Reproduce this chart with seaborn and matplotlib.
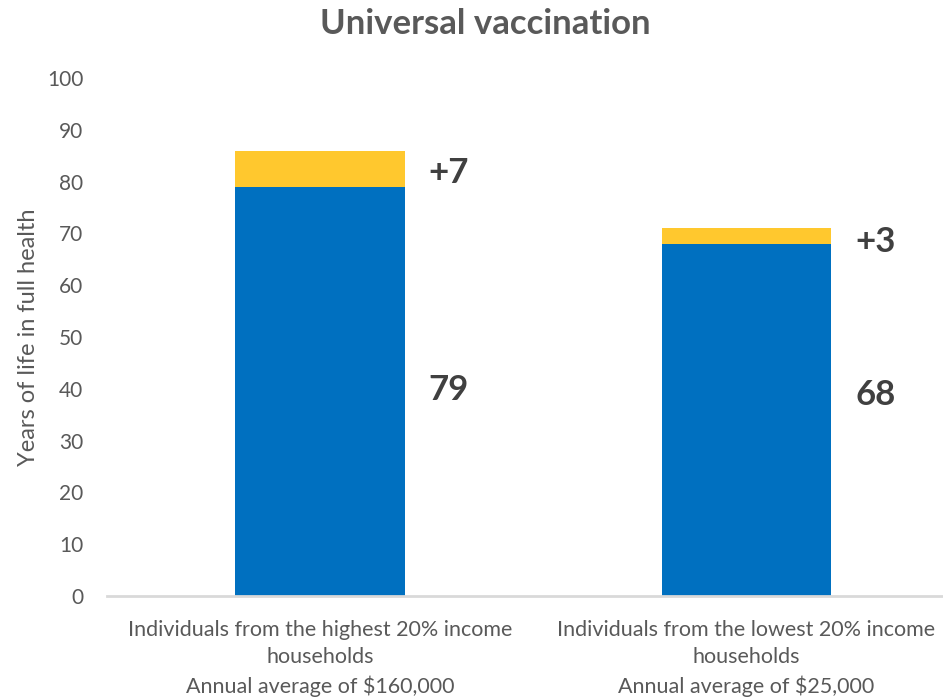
import matplotlib
matplotlib.use("Agg")
import matplotlib.pyplot as plt
import seaborn as sns
import pandas as pd

# ---- data ----
categories = [
    "Individuals from the highest 20% income\nhouseholds\nAnnual average of $160,000",
    "Individuals from the lowest 20% income\nhouseholds\nAnnual average of $25,000",
]
base_years = [79, 68]
gain_years = [7, 3]
base_labels = ["79", "68"]
gain_labels = ["+7", "+3"]
title = "Universal vaccination"
ylabel = "Years of life in full health"
yticks = list(range(0, 101, 10))

totals = [b + g for b, g in zip(base_years, gain_years)]
df = pd.DataFrame({"category": categories, "base": base_years, "total": totals})

sns.set_theme(style="white")
plt.rcParams["font.family"] = ["Lato", "DejaVu Sans"]

W, H = 943, 698
fig = plt.figure(figsize=(W / 100, H / 100), dpi=100)
left, right, top, bottom = 107, 959.5, 78, 596
ax = fig.add_axes([left / W, (H - bottom) / H, (right - left) / W, (bottom - top) / H])

blue = "#0070C0"
yellow = "#FFC82E"
bw = 170 / 427

sns.barplot(data=df, x="category", y="total", color=yellow, width=bw,
            saturation=1, ax=ax, linewidth=0)
sns.barplot(data=df, x="category", y="base", color=blue, width=bw,
            saturation=1, ax=ax, linewidth=0)

ax.set_xlim(-0.5, 1.5)
ax.set_ylim(0, 100)
ax.set_yticks(yticks)
ax.set_yticklabels([str(t) for t in yticks], fontsize=15, color="#595959")
ax.tick_params(axis="y", length=0, pad=17)
ax.tick_params(axis="x", length=0, pad=17)
ax.set_xticks(range(len(categories)))
ax.set_xticklabels(categories, fontsize=15.5, color="#595959", linespacing=1.47)
ax.set_xlabel("")
ax.set_ylabel(ylabel, fontsize=17, color="#595959", labelpad=6)

for s in ["top", "right", "left"]:
    ax.spines[s].set_visible(False)
ax.spines["bottom"].set_color("#D9D9D9")
ax.spines["bottom"].set_linewidth(2)

# value labels
label_dx = 0.255
base_label_y = [39.8, 38.8]
gain_label_y = [81.7, 68.3]
for i in range(len(categories)):
    ax.text(i + label_dx, base_label_y[i], base_labels[i], ha="left", va="center",
            fontsize=25, fontweight="bold", color="#404040")
    ax.text(i + label_dx, gain_label_y[i], gain_labels[i], ha="left", va="center",
            fontsize=25, fontweight="bold", color="#404040")

fig.text(485 / W, 1 - 24 / H, title, ha="center", va="center",
         fontsize=25, fontweight="bold", color="#595959")

fig.savefig("out.png", dpi=100)
